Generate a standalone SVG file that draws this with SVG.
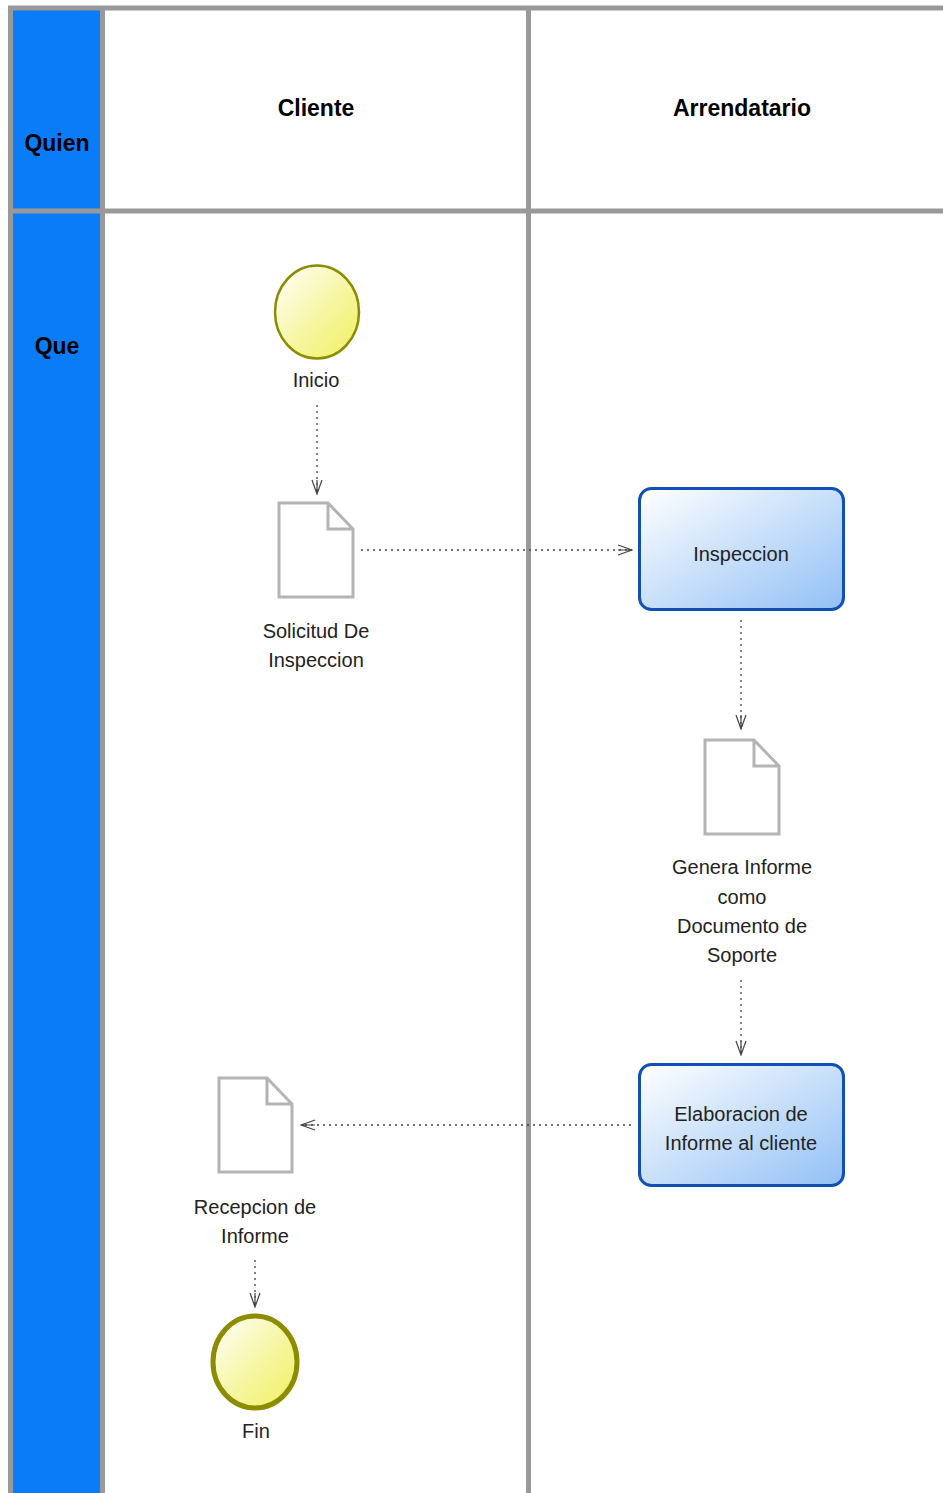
<svg xmlns="http://www.w3.org/2000/svg" width="943" height="1493" viewBox="0 0 943 1493">
  <defs>
    <linearGradient id="evFill" x1="0" y1="0" x2="1" y2="1">
      <stop offset="0" stop-color="#ffffff"/>
      <stop offset="0.55" stop-color="#f6f6a0"/>
      <stop offset="1" stop-color="#f0f060"/>
    </linearGradient>
    <linearGradient id="taskFill" x1="0" y1="0" x2="1" y2="1">
      <stop offset="0" stop-color="#ffffff"/>
      <stop offset="1" stop-color="#92c0f6"/>
    </linearGradient>
    <marker id="open" viewBox="0 0 16 12" refX="15" refY="6" markerWidth="16" markerHeight="12" markerUnits="userSpaceOnUse" orient="auto">
      <path d="M1,1 L15,6 L1,11 M15,6 L1,6" fill="none" stroke="#444" stroke-width="1.2"/>
    </marker>
    <style>
      .lane { stroke: #999999; stroke-width: 5; fill: none; }
      .hdr { font-family: "Liberation Sans", Arial, sans-serif; font-weight: bold; font-size: 23px; fill: #000; text-anchor: middle; }
      .lbl { font-family: "Liberation Sans", Arial, sans-serif; font-size: 20px; fill: #222; text-anchor: middle; }
      .doc { fill: #ffffff; stroke: #b4b4b4; stroke-width: 3; stroke-linejoin: miter; }
      .task { fill: url(#taskFill); stroke: #1050b8; stroke-width: 3; }
      .flow { fill: none; stroke: #444; stroke-width: 1.3; stroke-dasharray: 2 4; marker-end: url(#open); }
    </style>
  </defs>

  <!-- pool frame -->
  <g id="pool">
    <rect x="10.5" y="8.5" width="92" height="1490" fill="#0a7cf8"/>
    <line class="lane" x1="8" y1="8" x2="943" y2="8"/>
    <line class="lane" x1="10.5" y1="6" x2="10.5" y2="1493"/>
    <line class="lane" x1="102.5" y1="8" x2="102.5" y2="1493"/>
    <line class="lane" x1="528.5" y1="8" x2="528.5" y2="1493"/>
    <line class="lane" x1="8" y1="211" x2="943" y2="211"/>
    <text class="hdr" x="57" y="151">Quien</text>
    <text class="hdr" x="57" y="354">Que</text>
    <text class="hdr" x="316" y="116">Cliente</text>
    <text class="hdr" x="742" y="116">Arrendatario</text>
  </g>

  <g id="inicio">
    <ellipse cx="317" cy="312" rx="42" ry="46.5" fill="url(#evFill)" stroke="#8c8c00" stroke-width="2.5"/>
    <text class="lbl" x="316" y="387">Inicio</text>
  </g>

  <g id="solicitud">
    <path class="doc" d="M279,503 H328 L353,529 V597 H279 Z M328,503 V529 H353"/>
    <text class="lbl" x="316" y="638">Solicitud De</text>
    <text class="lbl" x="316" y="667">Inspeccion</text>
  </g>

  <g id="inspeccion">
    <rect class="task" x="639.5" y="488.5" width="204" height="121" rx="12"/>
    <text class="lbl" x="741" y="561">Inspeccion</text>
  </g>

  <g id="genera">
    <path class="doc" d="M705,740 H754 L779,766 V834 H705 Z M754,740 V766 H779"/>
    <text class="lbl" x="742" y="874">Genera Informe</text>
    <text class="lbl" x="742" y="904">como</text>
    <text class="lbl" x="742" y="933">Documento de</text>
    <text class="lbl" x="742" y="962">Soporte</text>
  </g>

  <g id="elaboracion">
    <rect class="task" x="639.5" y="1064.5" width="204" height="121" rx="12"/>
    <text class="lbl" x="741" y="1121">Elaboracion de</text>
    <text class="lbl" x="741" y="1150">Informe al cliente</text>
  </g>

  <g id="recepcion">
    <path class="doc" d="M219,1078 H267 L292,1104 V1172 H219 Z M267,1078 V1104 H292"/>
    <text class="lbl" x="255" y="1214">Recepcion de</text>
    <text class="lbl" x="255" y="1243">Informe</text>
  </g>

  <g id="fin">
    <ellipse cx="255" cy="1362" rx="42" ry="46" fill="url(#evFill)" stroke="#8c8c00" stroke-width="5"/>
    <text class="lbl" x="256" y="1438">Fin</text>
  </g>

  <g id="connectors">
    <path class="flow" d="M317,405 V494"/>
    <path class="flow" d="M361,550 H632"/>
    <path class="flow" d="M741,620 V729"/>
    <path class="flow" d="M741,980 V1055"/>
    <path class="flow" d="M631,1125 H301"/>
    <path class="flow" d="M255,1260 V1307"/>
  </g>
</svg>
